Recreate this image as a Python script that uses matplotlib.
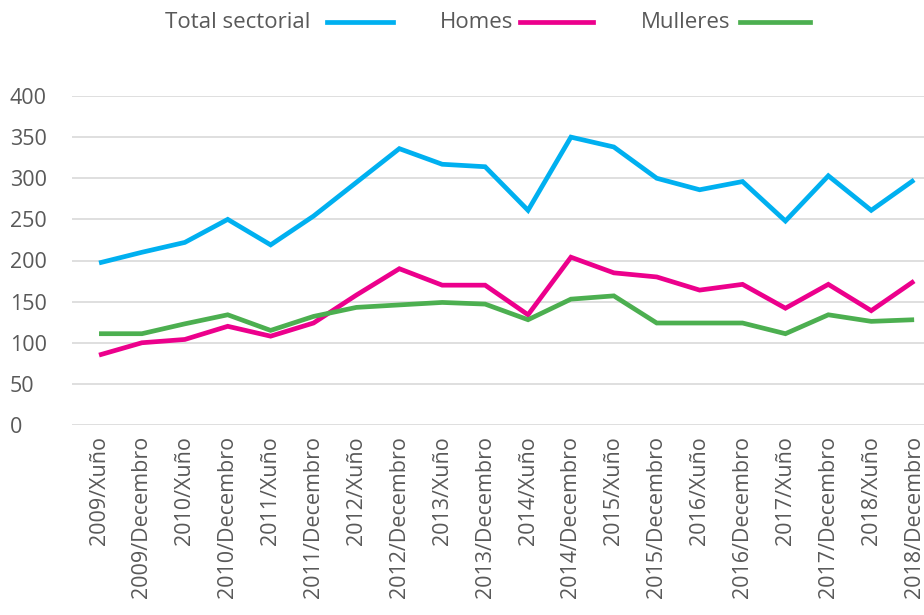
import matplotlib
matplotlib.use("Agg")
import matplotlib.pyplot as plt
from matplotlib.lines import Line2D

categories = ["2009/Xuño", "2009/Decembro", "2010/Xuño", "2010/Decembro", "2011/Xuño",
              "2011/Decembro", "2012/Xuño", "2012/Decembro", "2013/Xuño", "2013/Decembro",
              "2014/Xuño", "2014/Decembro", "2015/Xuño", "2015/Decembro", "2016/Xuño",
              "2016/Decembro", "2017/Xuño", "2017/Decembro", "2018/Xuño", "2018/Decembro"]
total = [197, 210, 222, 250, 219, 254, 295, 336, 317, 314,
         261, 350, 338, 300, 286, 296, 248, 303, 261, 298]
homes = [85, 100, 104, 120, 108, 124, 158, 190, 170, 170,
         134, 204, 185, 180, 164, 171, 142, 171, 139, 175]
mulleres = [111, 111, 123, 134, 115, 132, 143, 146, 149, 147,
            128, 153, 157, 124, 124, 124, 111, 134, 126, 128]
series_names = ["Total sectorial", "Homes", "Mulleres"]
colors = ["#00B0F0", "#EC008C", "#4CAF50"]
yticks = [0, 50, 100, 150, 200, 250, 300, 350, 400]

plt.rcParams['font.family'] = ['Open Sans', 'DejaVu Sans']
W, H = 924, 615
fig = plt.figure(figsize=(W / 100, H / 100), dpi=100)
left, right, top, bottom = 72, 924, 96, 425
ax = fig.add_axes([left / W, 1 - bottom / H, (right - left) / W, (bottom - top) / H])

x = list(range(len(categories)))
for vals, c in zip([total, homes, mulleres], colors):
    ax.plot(x, vals, color=c, lw=3.4, solid_capstyle='butt', solid_joinstyle='miter', zorder=3)

ax.set_ylim(0, 400)
ax.set_xlim(-0.63, 19.23)
ax.set_yticks(yticks)
ax.set_yticklabels([str(v) for v in yticks])
ax.set_xticks(x)
ax.set_xticklabels(categories, rotation=90, va='top', ha='center')
ax.tick_params(axis='both', length=0, labelsize=15.5, colors='#595959')
ax.tick_params(axis='x', pad=8)
ax.tick_params(axis='y', pad=62 * 0.72)
for lab in ax.get_yticklabels():
    lab.set_horizontalalignment('left')
ax.grid(axis='y', color='#d9d9d9', lw=1.2, zorder=0)
for s in ax.spines.values():
    s.set_visible(False)

# legend
legend_items = [(165, 327, 393), (440, 520, 593), (641, 740, 810)]
ly = 1 - 22 / H
for name, c, (tx, l0, l1) in zip(series_names, colors, legend_items):
    fig.text(tx / W, ly, name, fontsize=16, color='#595959', va='center', ha='left')
    fig.add_artist(Line2D([l0 / W, l1 / W], [ly, ly], color=c, lw=3.4, transform=fig.transFigure))

fig.savefig("out.png", dpi=100)
